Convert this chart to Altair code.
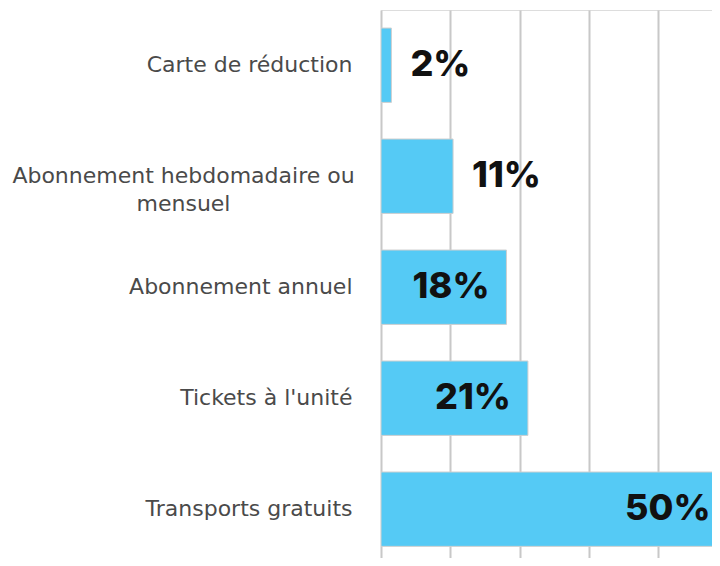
import altair as alt
import pandas as pd

categories = [
    "Carte de réduction",
    "Abonnement hebdomadaire ou\nmensuel",
    "Abonnement annuel",
    "Tickets à l'unité",
    "Transports gratuits",
]
values = [1.5, 10.4, 18.1, 21.2, 50.0]
labels = ["2%", "11%", "18%", "21%", "50%"]

df = pd.DataFrame({"cat": categories, "val": values, "lab": labels})

BAR = "#55CAF5"
GRID = "#c8c8c8"

xscale = alt.Scale(domain=[0, 47.76], nice=False)
yscale = alt.Scale(paddingInner=0.33, paddingOuter=0.1336, align=0.608)
yenc = alt.Y(
    "cat:N",
    sort=categories,
    title=None,
    scale=yscale,
    axis=alt.Axis(
        domain=False,
        ticks=False,
        grid=False,
        labelExpr="split(datum.value, '\\n')",
        labelFont="DejaVu Sans",
        labelFontSize=22,
        labelColor="#4a4a4a",
        labelLimit=0,
        labelLineHeight=28,
        labelBaseline="middle",
        labelAlign=alt.condition("indexof(datum.value, '\\n') >= 0", alt.value("center"), alt.value("right")),
        labelPadding=alt.condition("indexof(datum.value, '\\n') >= 0", alt.value(198), alt.value(29)),
        minExtent=373,
        maxExtent=373,
    ),
)

xenc = alt.X(
    "val:Q",
    scale=xscale,
    title=None,
    axis=alt.Axis(
        values=[0, 10, 20, 30, 40],
        labels=False,
        ticks=False,
        domain=False,
        grid=True,
        gridColor=GRID,
        gridWidth=2,
    ),
)

bars = alt.Chart(df).mark_bar(color=BAR, stroke="#cfcfcf", strokeWidth=1, clip=True).encode(
    x=xenc, y=yenc
)

inside = alt.Chart(df).transform_filter("datum.val >= 15").mark_text(
    align="right", baseline="middle", dx=-17, font="Inter", fontSize=36, fontWeight=800, color="#111111"
).encode(x=alt.X("val:Q", scale=xscale), y=alt.Y("cat:N", sort=categories), text="lab:N")

outside = alt.Chart(df).transform_filter("datum.val < 15").mark_text(
    align="left", baseline="middle", dx=19, font="Inter", fontSize=36, fontWeight=800, color="#111111"
).encode(x=alt.X("val:Q", scale=xscale), y=alt.Y("cat:N", sort=categories), text="lab:N")

chart = (
    alt.layer(bars, inside, outside)
    .properties(width=331, height=548, padding={"left": 0, "top": 2, "right": 0, "bottom": 0})
    .configure_view(stroke=None)
    .configure(background="white")
)

chart.save("out.html", embed_options={"renderer": "svg", "actions": False})
